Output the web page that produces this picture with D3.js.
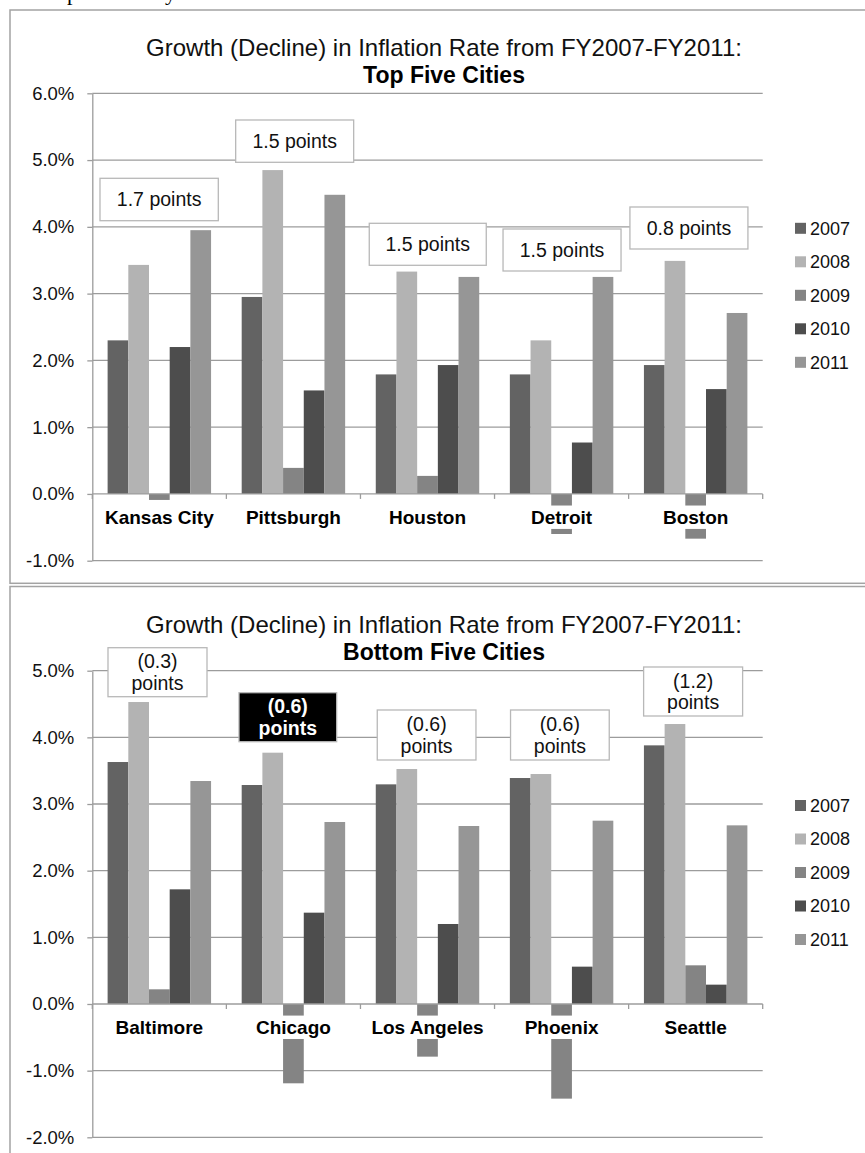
<!DOCTYPE html>
<html>
<head>
<meta charset="utf-8">
<script src="https://cdn.jsdelivr.net/npm/d3@7"></script>
<style>
  html, body { margin: 0; padding: 0; background: #fff; }
  svg { display: block; font-family: "Liberation Sans", Arial, sans-serif; }
</style>
</head>
<body>
<svg id="chart" width="865" height="1153"></svg>
<script>
// ---- data ----
const years = ["2007", "2008", "2009", "2010", "2011"];
const yearColors = ["#636363", "#b3b3b3", "#848484", "#4d4d4d", "#969696"];

const topCities = ["Kansas City", "Pittsburgh", "Houston", "Detroit", "Boston"];
const top2007 = [2.30, 2.95, 1.79, 1.79, 1.93];
const top2008 = [3.43, 4.85, 3.33, 2.30, 3.49];
const top2009 = [-0.09, 0.39, 0.27, -0.60, -0.67];
const top2010 = [2.20, 1.55, 1.93, 0.77, 1.57];
const top2011 = [3.95, 4.48, 3.25, 3.25, 2.71];
const topNotes = ["1.7 points", "1.5 points", "1.5 points", "1.5 points", "0.8 points"];
const topTicks = [-1, 0, 1, 2, 3, 4, 5, 6];

const bottomCities = ["Baltimore", "Chicago", "Los Angeles", "Phoenix", "Seattle"];
const bottom2007 = [3.63, 3.285, 3.295, 3.39, 3.88];
const bottom2008 = [4.53, 3.77, 3.525, 3.45, 4.20];
const bottom2009 = [0.22, -1.19, -0.79, -1.42, 0.58];
const bottom2010 = [1.72, 1.37, 1.20, 0.56, 0.29];
const bottom2011 = [3.345, 2.73, 2.67, 2.75, 2.68];
const bottomNotes = [["(0.3)", "points"], ["(0.6)", "points"], ["(0.6)", "points"], ["(0.6)", "points"], ["(1.2)", "points"]];
const bottomTicks = [-2, -1, 0, 1, 2, 3, 4, 5];

const titleLine = "Growth (Decline) in Inflation Rate from FY2007-FY2011:";

// ---- drawing ----
const svg = d3.select("#chart");
const gridColor = "#9c9c9c";
const frameColor = "#a3a3a3";

// tail of the page text running above the first chart
svg.append("text").attr("x", 67).attr("y", 0).attr("font-family", "Liberation Serif, serif")
  .attr("font-size", 22).attr("fill", "#000").text("p");
svg.append("text").attr("x", 165).attr("y", 0).attr("font-family", "Liberation Serif, serif")
  .attr("font-size", 22).attr("fill", "#000").text("y");

function drawPanel(opt) {
  const g = svg.append("g");
  const series = opt.series;
  const x0 = d3.scaleBand().domain(opt.cities).range([opt.left, opt.right]).padding(0);
  const x1 = d3.scaleBand().domain(years).range([0, x0.bandwidth()]).paddingInner(0).paddingOuter(0.74);
  const y = d3.scaleLinear().domain(opt.domain).range(opt.yRange);

  // frame
  g.append("rect")
    .attr("x", opt.frame[0]).attr("y", opt.frame[1])
    .attr("width", opt.frame[2]).attr("height", opt.frame[3])
    .attr("fill", "#fff").attr("stroke", frameColor).attr("stroke-width", 1.5);

  // titles
  g.append("text").attr("x", opt.titleX).attr("y", opt.titleY)
    .attr("text-anchor", "middle").attr("font-size", 24).attr("fill", "#111")
    .text(titleLine);
  g.append("text").attr("x", opt.titleX).attr("y", opt.titleY + 26.5)
    .attr("text-anchor", "middle").attr("font-size", 23).attr("font-weight", "bold").attr("fill", "#000")
    .text(opt.subtitle);

  // gridlines
  g.append("g").selectAll("line").data(opt.ticks.filter(t => t !== 0)).join("line")
    .attr("x1", opt.left).attr("x2", opt.right)
    .attr("y1", d => y(d)).attr("y2", d => y(d))
    .attr("stroke", gridColor).attr("stroke-width", 1.3);

  // y axis
  const yAxis = d3.axisLeft(y).tickValues(opt.ticks).tickSize(5).tickSizeOuter(0)
    .tickFormat(d => d.toFixed(1) + "%");
  const ya = g.append("g").attr("transform", `translate(${opt.left},0)`).call(yAxis);
  ya.select(".domain").attr("stroke", gridColor).attr("stroke-width", 1.3);
  ya.selectAll(".tick line").attr("stroke", gridColor).attr("stroke-width", 1.3);
  ya.selectAll(".tick text").attr("x", -18).attr("font-size", 18.5).attr("fill", "#111")
    .attr("font-family", "Liberation Sans, Arial, sans-serif");

  // bars
  const rows = opt.cities.map((c, i) => ({ city: c, vals: series.map(s => s[i]) }));
  const groups = g.append("g").selectAll("g").data(rows).join("g")
    .attr("transform", d => `translate(${x0(d.city)},0)`);
  groups.selectAll("rect").data(d => d.vals.map((v, k) => ({ year: years[k], v, k }))).join("rect")
    .attr("x", d => x1(d.year))
    .attr("width", x1.bandwidth())
    .attr("y", d => y(Math.max(0, d.v)))
    .attr("height", d => Math.abs(y(d.v) - y(0)))
    .attr("fill", d => yearColors[d.k]);

  // category axis along zero
  const xa = g.append("g");
  xa.append("line").attr("x1", opt.left).attr("x2", opt.right)
    .attr("y1", y(0)).attr("y2", y(0)).attr("stroke", gridColor).attr("stroke-width", 1.3);
  const bounds = opt.cities.map(c => x0(c)).concat([opt.right]);
  xa.selectAll("line.tk").data(bounds).join("line").attr("class", "tk")
    .attr("x1", d => d).attr("x2", d => d)
    .attr("y1", y(0)).attr("y2", y(0) + 5)
    .attr("stroke", gridColor).attr("stroke-width", 1.3);

  // category labels on a white backing
  const lab = g.append("g").selectAll("g").data(opt.cities).join("g")
    .attr("transform", c => `translate(${x0(c) + x0.bandwidth() / 2},${y(0) + 23.3})`);
  const labText = lab.append("text")
    .attr("text-anchor", "middle").attr("dy", "0.35em")
    .attr("font-size", 19).attr("font-weight", "bold").attr("fill", "#000")
    .text(c => c);
  labText.each(function () {
    const b = this.getBBox();
    d3.select(this.parentNode).insert("rect", "text")
      .attr("x", b.x - 2).attr("width", b.width + 4)
      .attr("y", -11.7).attr("height", 23.4).attr("fill", "#fff");
  });

  // callout boxes
  opt.notes.forEach((n, i) => {
    const L = opt.noteLayout[i];
    const cx = x0(opt.cities[i]) + L.dx;
    const bg = g.append("g");
    bg.append("rect").attr("x", cx).attr("y", L.top).attr("width", L.w).attr("height", L.h)
      .attr("fill", L.dark ? "#000" : "#fff").attr("stroke", "#b8b8b8").attr("stroke-width", 1.3);
    const lines = Array.isArray(n) ? n : [n];
    lines.forEach((t, j) => {
      bg.append("text").attr("x", cx + L.w / 2)
        .attr("y", L.top + L.h / 2 + (j - (lines.length - 1) / 2) * 21.5)
        .attr("dy", "0.35em").attr("text-anchor", "middle")
        .attr("font-size", 19.5).attr("font-weight", L.dark ? "bold" : "normal")
        .attr("fill", L.dark ? "#fff" : "#111").text(t);
    });
  });

  // legend
  const lg = g.append("g").selectAll("g").data(years).join("g")
    .attr("transform", (d, i) => `translate(795,${opt.legendY + i * 33.5})`);
  lg.append("rect").attr("x", 0).attr("y", -5.5).attr("width", 11).attr("height", 11)
    .attr("fill", (d, i) => yearColors[i]);
  lg.append("text").attr("x", 15).attr("dy", "0.35em").attr("font-size", 18).attr("fill", "#111")
    .text(d => d);
}

drawPanel({
  cities: topCities,
  series: [top2007, top2008, top2009, top2010, top2011],
  domain: [-1, 6], yRange: [560.7, 93.3], ticks: topTicks,
  left: 92.3, right: 762.7,
  frame: [10, 10, 880, 573.3],
  titleX: 444, titleY: 56, subtitle: "Top Five Cities",
  notes: topNotes,
  noteLayout: [
    { dx: 7.7, top: 178.3, w: 118.3, h: 42.4 },
    { dx: 9.3, top: 120, w: 118, h: 42.3 },
    { dx: 8.8, top: 223.3, w: 117, h: 42 },
    { dx: 8.5, top: 229, w: 118, h: 42 },
    { dx: 1.3, top: 207, w: 118, h: 42 }
  ],
  legendY: 228.3
});

drawPanel({
  cities: bottomCities,
  series: [bottom2007, bottom2008, bottom2009, bottom2010, bottom2011],
  domain: [-2, 5], yRange: [1137.3, 670.7], ticks: bottomTicks,
  left: 92.3, right: 762.7,
  frame: [10, 586.5, 880, 600],
  titleX: 444, titleY: 633, subtitle: "Bottom Five Cities",
  notes: bottomNotes,
  noteLayout: [
    { dx: 15.7, top: 647.7, w: 99, h: 49 },
    { dx: 12.6, top: 692.7, w: 97.7, h: 49, dark: true },
    { dx: 16.8, top: 710, w: 98.7, h: 50 },
    { dx: 16, top: 710, w: 98.7, h: 50 },
    { dx: 15, top: 667, w: 99, h: 49 }
  ],
  legendY: 805.5
});
</script>
</body>
</html>
